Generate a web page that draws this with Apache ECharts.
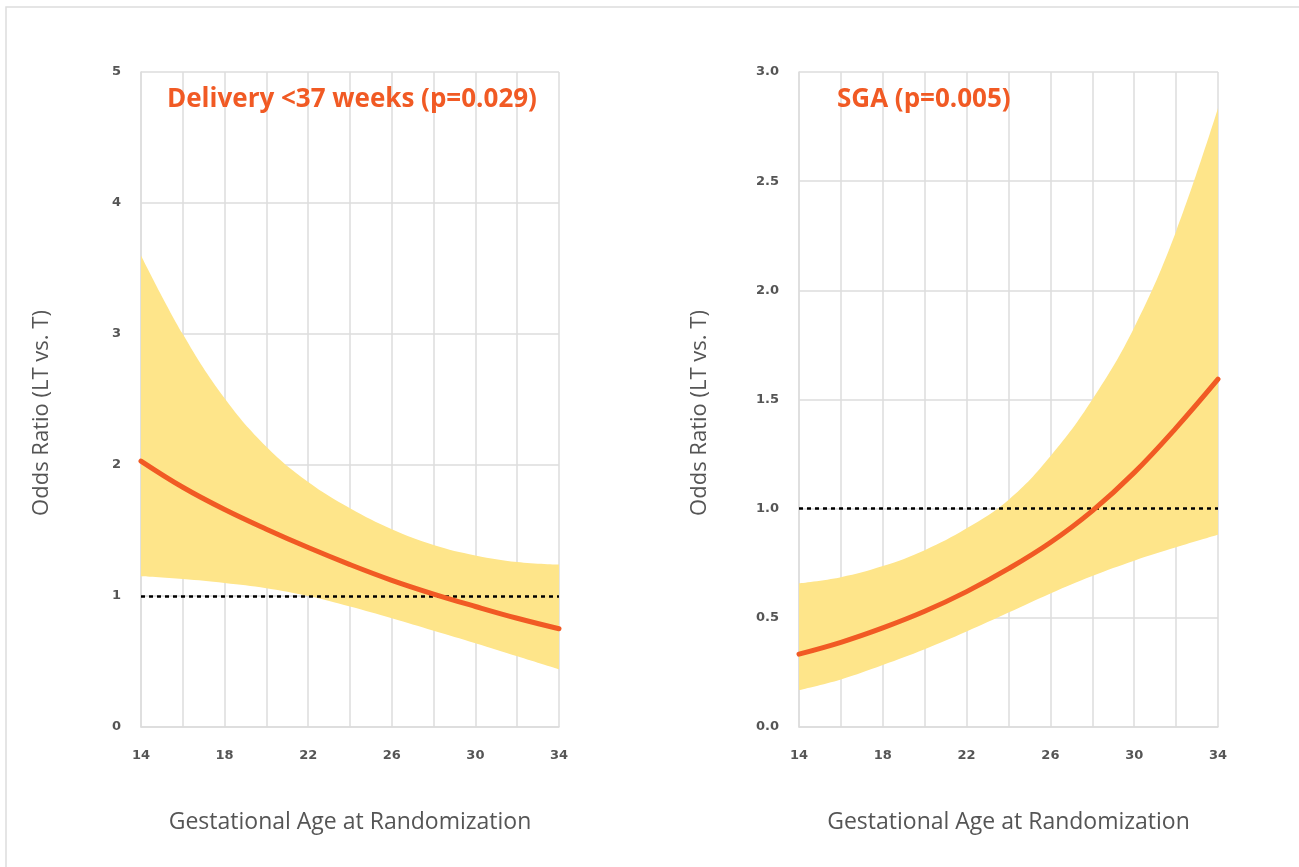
<!DOCTYPE html>
<html>
<head>
<meta charset="utf-8">
<script src="https://cdn.jsdelivr.net/npm/echarts@6/dist/echarts.min.js"></script>
<style>
html,body{margin:0;padding:0;background:#fff;}
#chart{width:1299px;height:867px;}
</style>
</head>
<body>
<div id="chart"></div>
<script>
// Gestational age (weeks)
const weeks = [14, 16, 18, 20, 22, 24, 26, 28, 30, 32, 34];
const xTicks = [14, 18, 22, 26, 30, 34];

// Left panel: Delivery <37 weeks
const delivTitle = 'Delivery <37 weeks (p=0.029)';
const delivOR    = [2.03, 1.83, 1.66, 1.51, 1.37, 1.24, 1.12, 1.015, 0.92, 0.83, 0.75];
const delivLower = [1.15, 1.13, 1.10, 1.06, 1.00, 0.92, 0.83, 0.735, 0.64, 0.54, 0.44];
const delivUpper = [3.60, 3.00, 2.51, 2.14, 1.87, 1.67, 1.51, 1.39, 1.31, 1.26, 1.24];
const delivYTicks = [0, 1, 2, 3, 4, 5];

// Right panel: SGA
const sgaTitle = 'SGA (p=0.005)';
const sgaOR    = [0.334, 0.388, 0.454, 0.530, 0.620, 0.725, 0.845, 0.99, 1.165, 1.37, 1.593];
const sgaLower = [0.169, 0.218, 0.284, 0.356, 0.437, 0.524, 0.612, 0.692, 0.762, 0.823, 0.88];
const sgaUpper = [0.658, 0.686, 0.737, 0.81, 0.91, 1.04, 1.24, 1.50, 1.83, 2.27, 2.834];
const sgaYTicks = [0.0, 0.5, 1.0, 1.5, 2.0, 2.5, 3.0];

const refLine = 1;
const yName = 'Odds Ratio (LT vs. T)';
const xName = 'Gestational Age at Randomization';

const ORANGE = '#F15A24';
const BAND = '#FEE58A';
const GRIDC = '#DCDCDC';
const TXT = '#555555';

const diffs = (lo, hi) => hi.map((h, i) => h - lo[i]);

function xAxis(gi) {
  return {
    type: 'category', gridIndex: gi, data: weeks.map(String), boundaryGap: false,
    axisLine: {show: true, lineStyle: {color: GRIDC, width: 1.5}},
    axisTick: {show: false},
    splitLine: {show: true, interval: 0, lineStyle: {color: GRIDC, width: 1.5}},
    axisLabel: {
      interval: 0, margin: 22, color: TXT, fontFamily: 'DejaVu Sans', fontWeight: 'bold', fontSize: 13,
      formatter: v => xTicks.indexOf(Number(v)) >= 0 ? v : ''
    },
    name: xName, nameLocation: 'middle', nameGap: 84,
    nameTextStyle: {color: TXT, fontFamily: 'Open Sans', fontSize: 23}
  };
}
function yAxis(gi, ticks, dec) {
  return {
    type: 'value', gridIndex: gi, min: ticks[0], max: ticks[ticks.length - 1],
    interval: ticks[1] - ticks[0],
    axisLine: {show: true, lineStyle: {color: GRIDC, width: 1.5}},
    axisTick: {show: false},
    splitLine: {show: true, lineStyle: {color: GRIDC, width: 1.5}},
    axisLabel: {
      margin: 20, color: TXT, fontFamily: 'DejaVu Sans', fontWeight: 'bold', fontSize: 13,
      formatter: v => v.toFixed(dec)
    }
  };
}
function panelSeries(idx, lo, hi, or) {
  return [
    {type: 'line', xAxisIndex: idx, yAxisIndex: idx, data: lo, stack: 'band' + idx,
     smooth: 0.4, symbol: 'none', lineStyle: {width: 0, opacity: 0}, areaStyle: {opacity: 0}, silent: true, z: 1},
    {type: 'line', xAxisIndex: idx, yAxisIndex: idx, data: diffs(lo, hi), stack: 'band' + idx,
     smooth: 0.4, symbol: 'none', lineStyle: {width: 0, opacity: 0}, areaStyle: {color: BAND, opacity: 1}, silent: true, z: 1},
    {type: 'line', xAxisIndex: idx, yAxisIndex: idx, data: or, smooth: 0.4, symbol: 'none',
     lineStyle: {color: ORANGE, width: 5, cap: 'round'}, z: 5,
     markLine: {silent: true, symbol: 'none', label: {show: false},
       lineStyle: {color: '#000', type: [4, 4], width: 2.5}, data: [{yAxis: refLine}], z: 4}}
  ];
}

const yNameStyle = {fill: TXT, font: '22px "Open Sans"', align: 'center', verticalAlign: 'middle'};

const chart = echarts.init(document.getElementById('chart'), null, {renderer: 'canvas'});
chart.setOption({
  animation: false,
  backgroundColor: '#fff',
  graphic: [
    {type: 'rect', shape: {x: 6, y: 7, width: 2000, height: 2000},
     style: {fill: 'none', stroke: '#DDDDDD', lineWidth: 1.5}, z: -10},
    {type: 'text', x: 42, y: 413, rotation: Math.PI / 2, style: Object.assign({text: yName}, yNameStyle)},
    {type: 'text', x: 700, y: 413, rotation: Math.PI / 2, style: Object.assign({text: yName}, yNameStyle)}
  ],
  title: [
    {text: delivTitle, left: 162, top: 82,
     textStyle: {color: ORANGE, fontFamily: 'Open Sans', fontWeight: 'bold', fontSize: 26}},
    {text: sgaTitle, left: 832, top: 82,
     textStyle: {color: ORANGE, fontFamily: 'Open Sans', fontWeight: 'bold', fontSize: 26}}
  ],
  grid: [
    {left: 141, top: 72, width: 418, height: 655},
    {left: 799, top: 72, width: 419, height: 655}
  ],
  xAxis: [xAxis(0), xAxis(1)],
  yAxis: [yAxis(0, delivYTicks, 0), yAxis(1, sgaYTicks, 1)],
  series: [].concat(panelSeries(0, delivLower, delivUpper, delivOR), panelSeries(1, sgaLower, sgaUpper, sgaOR))
});
</script>
</body>
</html>
